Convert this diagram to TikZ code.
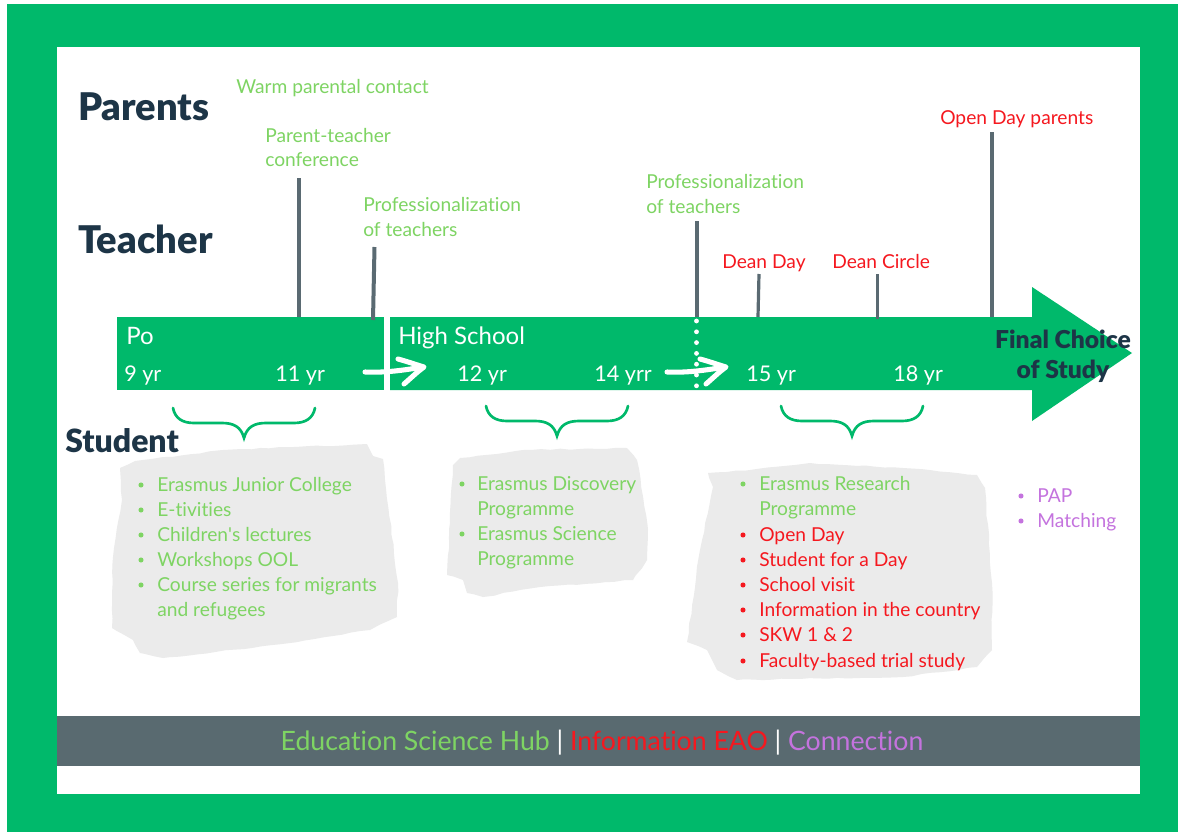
\documentclass[tikz,border=0pt]{standalone}
\usepackage{fontspec}
\setmainfont{Lato}[Ligatures=NoCommon]
\newfontfamily\heavyfont{Lato Black}
\usetikzlibrary{calc,decorations.pathmorphing,positioning}
\definecolor{framegreen}{HTML}{00B96B}
\definecolor{hubgreen}{HTML}{7ED463}
\definecolor{eaored}{HTML}{F5181F}
\definecolor{linkpurple}{HTML}{C473DE}
\definecolor{tickgrey}{HTML}{5A6A72}
\definecolor{bandgrey}{HTML}{596A70}
\definecolor{blobgrey}{HTML}{EBEBEB}
\definecolor{headnavy}{HTML}{1D3547}
\newcommand{\txtsize}{\fontsize{14.4}{16}\selectfont}

\begin{document}
\begin{tikzpicture}[%
    x=0.75pt,y=-0.75pt,%
    lbl/.style={anchor=base west,inner sep=0pt,font=\txtsize},%
    hub/.style={lbl,text=hubgreen},%
    eao/.style={lbl,text=eaored},%
    link/.style={lbl,text=linkpurple},%
    white label/.style={lbl,text=white,font=\fontsize{#1}{16}\selectfont},%
    head/.style={lbl,text=headnavy,font=\fontsize{#1}{20}\selectfont\heavyfont},%
    tick/.style={draw=tickgrey,line width=3pt},%
    blob/.style={fill=blobgrey,decorate,decoration={random steps,segment length=7pt,amplitude=0.5pt}},%
    dotbullet/.style={circle,inner sep=0pt,minimum size=3.8pt,fill=#1},%
  ]
  %
  % Definitions
  %
  \tikzset{
    curlybrace/.pic={
      \draw[framegreen,line width=2pt,line cap=round]
      (-71,-30) .. controls (-69,-20) and (-62,-15) .. (-50,-15)
      -- (-22,-15) .. controls (-10,-15) and (-3,-11) .. (0,0)
      .. controls (3,-11) and (10,-15) .. (22,-15)
      -- (50,-15) .. controls (62,-15) and (69,-20) .. (71,-30);
    },
    handarrow/.pic={
      \draw[white,line width=3.8pt,line cap=round,line join=round]
      (0,0) .. controls (20,1) and (40,-2) .. (58,-5)
      (33,-13) .. controls (44,-10) and (52,-7) .. (59,-5)
      .. controls (52,0) and (46,6) .. (39,12);
    },
  }
  \pgfmathsetmacro{\ybartop}{317};%
  \pgfmathsetmacro{\ybarbot}{390};%
  \pgfmathsetmacro{\yage}{381};%

  \useasboundingbox (0,0) rectangle (1178,832);%

  % Frame
  \fill[framegreen] (7,4) rectangle (1178,832);%
  \fill[white] (57,47) rectangle (1140,794);%

  % Footer band
  \fill[bandgrey] (57,716) rectangle (1140,766);%
  \node[lbl,anchor=base,font=\fontsize{20}{22}\selectfont] (legend) at (602,750)
  {\textcolor{hubgreen}{Education Science Hub} \textcolor{white}{|} \textcolor{eaored}{Information EAO} \textcolor{white}{|} \textcolor{linkpurple}{Connection}};%

  % Timeline
  \fill[framegreen] (117,\ybartop) rectangle (384,\ybarbot);%
  \fill[framegreen] (390,\ybartop) -- (1032,\ybartop) -- (1032,287) -- (1132,353)
  -- (1032,421) -- (1032,\ybarbot) -- (390,\ybarbot) -- cycle;%

  % Ticks
  \foreach \n/\xa/\ya/\xb/\yb/\w in {%
    a/299/178/299/317/3,%
    b/374.5/247/373/320/3,%
    c/696.5/221/696.5/317/3,%
    d/759/274/758/317/2.4,%
    e/877.5/274/877.5/319/2.4,%
    f/992/132/992/317/3%
  }{
    \coordinate (tick\n top) at (\xa,\ya);%
    \coordinate (tick\n bot) at (\xb,\yb);%
    \draw[tick,line width=\w pt] (tick\n top) -- (tick\n bot);%
  }

  % Dotted separator
  \coordinate (septop) at (696.5,321);%
  \coordinate (sepbot) at (696.5,388);%
  \draw[white,line width=3.6pt,line cap=round,dash pattern=on 0pt off 8.1pt] (septop) -- (sepbot);%

  \pic at (365,372) {handarrow};%
  \pic at (667,372) {handarrow};%

  % Stages and ages
  \node[white label=18] (po) at (126,344) {Po};%
  \node[white label=18] (high) at (398,344) {High School};%
  \foreach \n/\x/\t in {a/124/9 yr,b/275/11 yr,c/457/12 yr,d/594/14 yrr,e/746/15 yr,f/893/18 yr}{
    \node[white label=16.2] (age\n) at (\x,\yage) {\t};%
  }
  \node[head=18.5,anchor=base] (final1) at (1063,348) {Final Choice};%
  \node[head=18.5,anchor=base] (final2) at (1063,378) {of Study};%

  % Headings
  \node[head=28.6] (parents) at (78,120.5) {Parents};%
  \node[head=28.6] (teacher) at (78,253) {Teacher};%
  \node[head=24] (student) at (65,452.5) {Student};%

  % Labels above the timeline
  \node[hub] (warm) at (236,93) {Warm parental contact};%
  \node[hub] (ptc1) at (265,142) {Parent-teacher};%
  \node[hub] (ptc2) at (265,166) {conference};%
  \node[hub] (prof1) at (363,211) {Professionalization};%
  \node[hub] (prof2) at (363,236) {of teachers};%
  \node[hub] (profb1) at (646,188) {Professionalization};%
  \node[hub] (profb2) at (646,213) {of teachers};%
  \node[eao] (dean) at (722,268) {Dean Day};%
  \node[eao] (circle) at (832,268) {Dean Circle};%
  \node[eao] (openp) at (940,124) {Open Day parents};%

  % Braces
  \pic at (244,438) {curlybrace};%
  \pic at (557,436) {curlybrace};%
  \pic at (852,436) {curlybrace};%

  % Grey patches
  \fill[blob] (120,468) -- (135,461) -- (223,450) -- (367,444) -- (373,456) -- (383,459)
  -- (385,480) -- (398,583) -- (397,617) -- (370,630) -- (290,643) -- (163,658)
  -- (140,653) -- (133,640) -- (112,628) -- (113,557) -- (122,500) -- cycle;%
  \fill[blob] (453,465) -- (460,458) -- (523,450) -- (627,448) -- (637,460) -- (648,530)
  -- (647,560) -- (633,580) -- (540,587) -- (483,597) -- (467,593) -- (463,580)
  -- (447,575) -- (450,523) -- cycle;%
  \fill[blob] (708,473) -- (750,470) -- (810,463) -- (903,468) -- (977,475) -- (985,488)
  -- (992,583) -- (992,650) -- (977,667) -- (903,677) -- (737,680) -- (717,670)
  -- (707,650) -- (687,642) -- (700,550) -- (713,487) -- cycle;%

  % Programme lists
  \foreach \n/\y/\t in {1/491/Erasmus Junior College,2/516/E-tivities,3/541/Children\textquotesingle s lectures,4/566/Workshops OOL,5/591/Course series for migrants}{
    \node[hub] (juniorl\n) at (157,\y) {\t};%
    \node[dotbullet=hubgreen] (juniorb\n) at (141,\y-6) {};%
  }
  \node[hub] (juniorl6) at (157,616) {and refugees};%

  \foreach \n/\y/\t in {1/490/Erasmus Discovery,3/540/Erasmus Science}{
    \node[hub] (discl\n) at (477,\y) {\t};%
    \node[dotbullet=hubgreen] (discb\n) at (462,\y-6) {};%
  }
  \node[hub] (discl2) at (477,515) {Programme};%
  \node[hub] (discl4) at (477,565) {Programme};%

  \node[hub] (resl1) at (759,490) {Erasmus Research};%
  \node[dotbullet=hubgreen] (resb1) at (743,484) {};%
  \node[hub] (resl2) at (759,515) {Programme};%
  \foreach \n/\y/\t in {3/541/Open Day,4/566/Student for a Day,5/591/School visit,6/616/Information in the country,7/641/SKW 1 \& 2,8/667/Faculty-based trial study}{
    \node[eao] (resl\n) at (759,\y) {\t};%
    \node[dotbullet=eaored] (resb\n) at (743,\y-6) {};%
  }

  \foreach \n/\y/\t in {1/502/PAP,2/527/Matching}{
    \node[link] (choicel\n) at (1037,\y) {\t};%
    \node[dotbullet=linkpurple] (choiceb\n) at (1021,\y-6) {};%
  }

\end{tikzpicture}
\end{document}
